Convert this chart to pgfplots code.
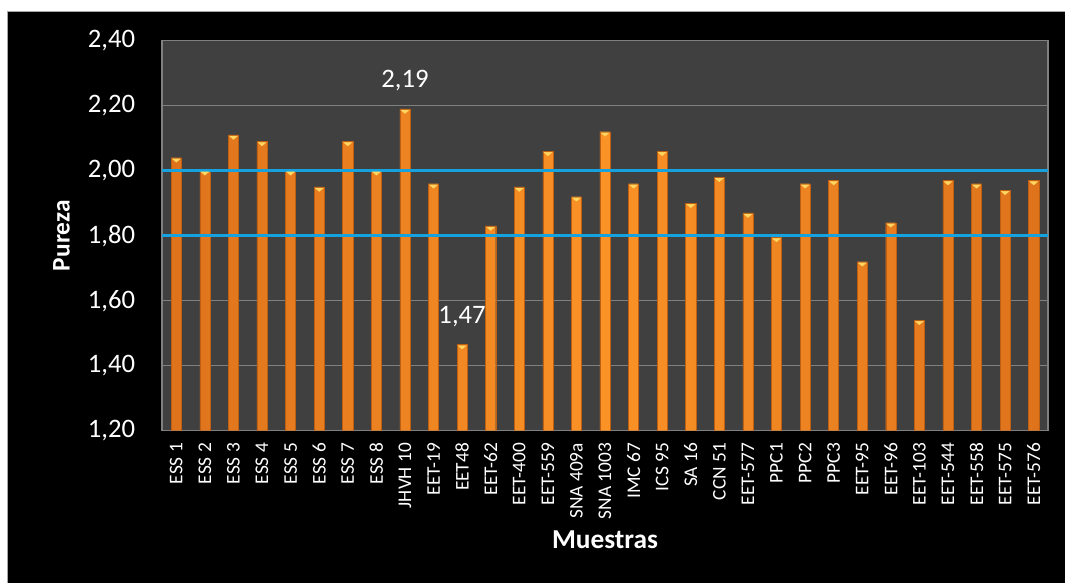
\documentclass[border=0pt]{standalone}
\usepackage{fontspec}
\setmainfont{Carlito}
\usepackage{pgfplots}
\pgfplotsset{compat=1.18}
\usepackage{pgfplotstable}
\definecolor{barmid}{RGB}{250,146,38}
\definecolor{baredge}{RGB}{222,115,28}
\definecolor{barline}{RGB}{190,95,18}
\definecolor{bartop}{RGB}{255,214,95}
\definecolor{refblue}{RGB}{22,162,222}
\definecolor{plotbg}{RGB}{64,64,64}
\definecolor{gridc}{RGB}{128,128,128}

\pgfplotstableread{
x y
0 2.04
1 2.00
2 2.11
3 2.09
4 2.00
5 1.95
6 2.09
7 2.00
8 2.19
9 1.96
10 1.465
11 1.83
12 1.95
13 2.06
14 1.92
15 2.12
16 1.96
17 2.06
18 1.90
19 1.98
20 1.87
21 1.795
22 1.96
23 1.97
24 1.72
25 1.84
26 1.54
27 1.97
28 1.96
29 1.94
30 1.97
}\datatable

\begin{document}
\begin{tikzpicture}
\useasboundingbox (0,0) rectangle (798.75pt,437.25pt);
\fill[white] (0,0) rectangle (798.75pt,437.25pt);
\fill[black] (5.25pt,0) rectangle (798.75pt,429pt);
\draw[gray!70, line width=0.6pt] (5.25pt,0) -- (5.25pt,429pt) -- (798.75pt,429pt);
\begin{axis}[
  at={(121.5pt,114.2pt)}, anchor=south west,
  scale only axis, width=664.5pt, height=292.5pt,
  axis background/.style={fill=plotbg},
  axis line style={draw=gridc, line width=0.8pt},
  xmin=-0.5, xmax=30.5, ymin=1.2, ymax=2.4,
  ytick={1.2,1.4,1.6,1.8,2.0,2.2,2.4},
  ymajorgrids, grid style={draw=gridc, line width=0.8pt},
  major tick length=0pt,
  xtick={0,...,30},
  xticklabels={ESS 1,ESS 2,ESS 3,ESS 4,ESS 5,ESS 6,ESS 7,ESS 8,JHVH 10,EET-19,EET48,EET-62,EET-400,EET-559,SNA 409a,SNA 1003,IMC 67,ICS 95,SA 16,CCN 51,EET-577,PPC1,PPC2,PPC3,EET-95,EET-96,EET-103,EET-544,EET-558,EET-575,EET-576},
  x tick label style={rotate=90, anchor=east, inner sep=0pt, font=\fontsize{14.5}{16}\selectfont, text=white},
  xticklabel shift=9pt,
  y tick label style={anchor=east, inner sep=0pt, font=\fontsize{20}{24}\selectfont, text=white},
  yticklabel shift=20pt,
  /pgf/number format/.cd, use comma, fixed, fixed zerofill, precision=2, assume math mode=true,
  /pgfplots/.cd,
  xlabel={Muestras}, ylabel={Pureza},
  x label style={at={(axis description cs:0.5,-0.28)}, anchor=center, font=\fontsize{20.5}{24}\selectfont\bfseries, text=white},
  y label style={at={(axis description cs:-0.1134,0.5)}, anchor=center, font=\fontsize{19}{24}\selectfont\bfseries, text=white},
]
\addplot[ybar, bar width=7.6pt, draw=barline, line width=0.35pt, left color=baredge, right color=baredge, middle color=barmid] table[x=x,y=y] {\datatable};
\addplot[only marks, color=bartop, mark=triangle*, mark size=3.2pt, mark options={rotate=180, yscale=0.5, fill=bartop, draw=bartop, yshift=3.4pt}] table[x=x,y=y] {\datatable};
\addplot[refblue, line width=2.4pt] coordinates {(-0.5,2.0) (30.5,2.0)};
\addplot[refblue, line width=2.4pt] coordinates {(-0.5,1.8) (30.5,1.8)};
\node[anchor=south, text=white, font=\fontsize{20}{24}\selectfont, inner sep=0pt] at (axis cs:8,2.19) [yshift=13pt] {2,19};
\node[anchor=south, text=white, font=\fontsize{20}{24}\selectfont, inner sep=0pt] at (axis cs:10,1.465) [yshift=13pt] {1,47};
\end{axis}
\end{tikzpicture}
\end{document}
